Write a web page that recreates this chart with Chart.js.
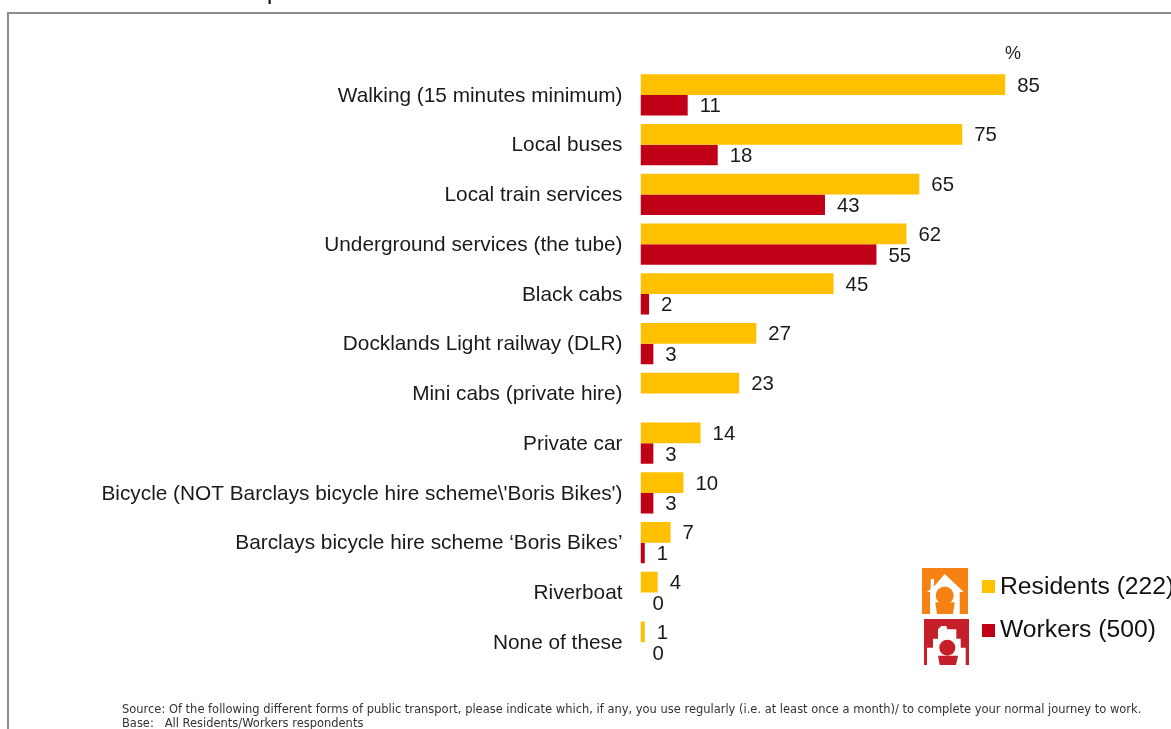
<!DOCTYPE html>
<html><head><meta charset="utf-8">
<style>
html,body{margin:0;padding:0;background:#fff;overflow:hidden}
#wrap{position:relative;width:1171px;height:729px;overflow:hidden;font-family:"Liberation Sans",Arial,sans-serif;color:#1a1a1a}
#wrap canvas{position:absolute;left:0;top:0}
.abs{position:absolute;white-space:pre}
#frame{position:absolute;left:7px;top:12px;width:1180px;height:800px;border:2px solid #8c8c8c;box-sizing:border-box}
#title{left:8px;top:-25px;font-size:26px}
#pct{left:1005px;top:43px;font-size:18px}
.sw{position:absolute;width:13px;height:13px}
.lg{font-size:24.7px;color:#111}
#src{left:122px;top:702px;font-family:"DejaVu Sans",sans-serif;font-size:11.47px;line-height:14px;color:#333}
</style></head><body>
<div id="wrap">
<div id="frame"></div>
<canvas id="c" width="1171" height="729"></canvas>
<div class="abs" id="title">Chart 4: Mode of transport used</div>
<div class="abs" id="pct">%</div>
<svg class="abs" style="left:922px;top:568px" width="46" height="46" viewBox="0 0 46 46"><rect width="46" height="46" fill="#f58213"/><path d="M5 24 L8.7 21 V11 H12 V18.5 L22.7 6 L41.7 24 L37.7 24 V46 H8 V24 Z" fill="#fff"/><circle cx="22.7" cy="27.5" r="9" fill="#f58213"/><path d="M13.3 34.3 H32.7 L31 46 H15 Z" fill="#f58213"/></svg>
<svg class="abs" style="left:924px;top:619px" width="45" height="46" viewBox="0 0 45 46"><rect width="45" height="46" fill="#c5202a"/><path d="M3 46 V28.7 H9 V19.7 H14 V10.3 L17.3 7 H22.3 L23.3 10.3 H32.3 V19.7 H36.7 V28.7 H41.7 V46 Z" fill="#fff"/><circle cx="23.3" cy="28.7" r="8" fill="#c5202a"/><path d="M14 36.7 H34 L32 46 H15.7 Z" fill="#c5202a"/></svg>
<div class="sw" style="left:982px;top:580px;background:#ffc000"></div>
<div class="abs lg" style="left:1000px;top:572px">Residents (222)</div>
<div class="sw" style="left:982px;top:624px;background:#c00016"></div>
<div class="abs lg" style="left:1000px;top:615px">Workers (500)</div>
<div class="abs" id="src">Source: Of the following different forms of public transport, please indicate which, if any, you use regularly (i.e. at least once a month)/ to complete your normal journey to work.
Base:   All Residents/Workers respondents</div>
</div>
<script src="https://cdn.jsdelivr.net/npm/chart.js@4"></script>
<script>
const categories = ["Walking (15 minutes minimum)","Local buses","Local train services","Underground services (the tube)","Black cabs","Docklands Light railway (DLR)","Mini cabs (private hire)","Private car","Bicycle (NOT Barclays bicycle hire scheme\\'Boris Bikes')","Barclays bicycle hire scheme \u2018Boris Bikes\u2019","Riverboat","None of these"];
const residents = [85,75,65,62,45,27,23,14,10,7,4,1];
const workers = [11,18,43,55,2,3,null,3,3,1,0,0];
const labelPlugin = {
  id:'valueLabels',
  afterDatasetsDraw(chart){
    const ctx = chart.ctx;
    ctx.save();
    ctx.font = '20.4px "Liberation Sans", Arial, sans-serif';
    ctx.fillStyle = '#1a1a1a';
    ctx.textBaseline = 'middle';
    ctx.textAlign = 'left';
    chart.data.datasets.forEach((ds,i)=>{
      chart.getDatasetMeta(i).data.forEach((el,j)=>{
        const v = ds.data[j];
        if(v===null) return;
        ctx.fillText(String(v), el.x + 12, el.y + 1.5);
      });
    });
    ctx.restore();
  }
};
new Chart(document.getElementById('c'),{
  type:'bar',
  data:{labels:categories,datasets:[
    {label:'Residents (222)',data:residents,backgroundColor:'#ffc000'},
    {label:'Workers (500)',data:workers,backgroundColor:'#c00016'}
  ]},
  plugins:[labelPlugin],
  options:{
    indexAxis:'y',responsive:false,animation:false,
    layout:{padding:{top:70,bottom:62,left:0,right:101.5}},
    categoryPercentage:0.83,barPercentage:1,
    plugins:{legend:{display:false},tooltip:{enabled:false},title:{display:false}},
    scales:{
      x:{display:false,min:0,max:100},
      y:{
        grid:{display:false,drawTicks:false},
        border:{display:false},
        afterFit(s){s.width=640.5;},
        ticks:{color:'#1a1a1a',padding:18,autoSkip:false,labelOffset:1,font:{family:'"Liberation Sans", Arial, sans-serif',size:20.8}}
      }
    }
  }
});
</script>
</body></html>
